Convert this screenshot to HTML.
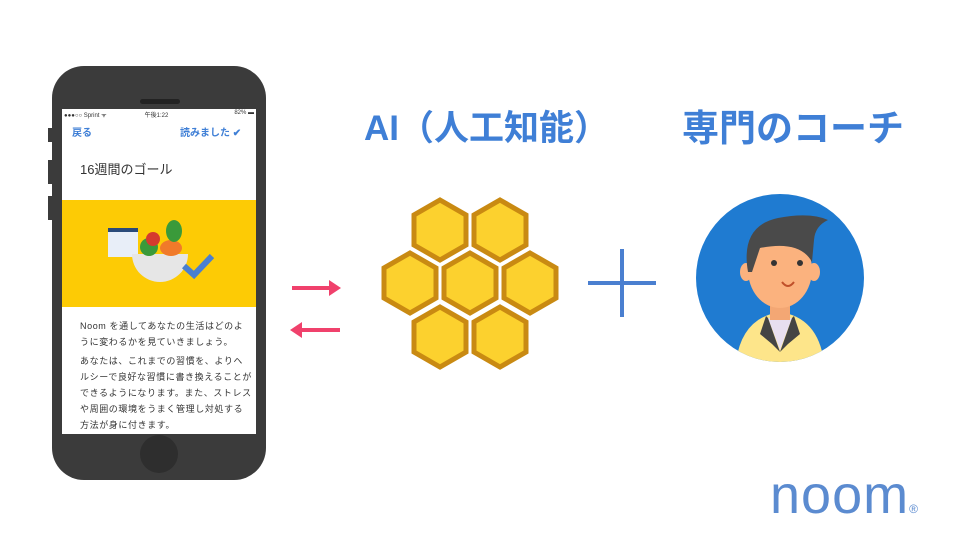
<!DOCTYPE html>
<html><head><meta charset="utf-8"><style>
body{margin:0;width:960px;height:540px;background:#fff;overflow:hidden;position:relative;font-family:"Liberation Sans","Noto Sans CJK JP",sans-serif}
.a{position:absolute}
.t{color:#3f7fd6;font-weight:bold;white-space:nowrap;line-height:40px}
.s{font-size:9px;color:#333;line-height:16px;letter-spacing:0.6px}
</style></head><body>
<!-- phone -->
<div class="a" style="left:52px;top:66px;width:214px;height:414px;background:#3b3b3b;border-radius:32px"></div>
<div class="a" style="left:48px;top:128px;width:6px;height:14px;background:#3b3b3b"></div>
<div class="a" style="left:48px;top:160px;width:6px;height:24px;background:#3b3b3b"></div>
<div class="a" style="left:48px;top:196px;width:6px;height:24px;background:#3b3b3b"></div>
<div class="a" style="left:140px;top:99px;width:40px;height:5px;background:#222;border-radius:3px"></div>
<div class="a" style="left:140px;top:435px;width:38px;height:38px;background:#2e2e2e;border-radius:50%"></div>
<div class="a" style="left:62px;top:109px;width:194px;height:325px;background:#fff;overflow:hidden"></div>
<div class="a" style="left:64px;top:110px;font-size:6px;color:#333;width:190px">●●●○○ Sprint ᯤ<span style="margin-left:38px">午後1:22</span><span style="float:right">82% ▬</span></div>
<div class="a" style="left:72px;top:124px;font-size:10px;color:#3f7fd6;font-weight:bold">戻る</div>
<div class="a" style="left:180px;top:124px;font-size:10px;color:#3f7fd6;font-weight:bold">読みました ✔</div>
<div class="a" style="left:80px;top:159px;font-size:13px;color:#333">16週間のゴール</div>
<div class="a" style="left:62px;top:200px;width:194px;height:107px;background:#fdcb05"></div>
<div class="a" style="left:108px;top:228px;width:30px;height:25px;background:#e8eef8;border-top:4px solid #2a4a7a"></div>
<div class="a" style="left:132px;top:254px;width:56px;height:28px;background:#e6e6e6;border-radius:0 0 28px 28px"></div>
<div class="a" style="left:140px;top:238px;width:18px;height:18px;background:#3a9a3a;border-radius:50%"></div>
<div class="a" style="left:146px;top:232px;width:14px;height:14px;background:#d53a2e;border-radius:50%"></div>
<div class="a" style="left:160px;top:240px;width:22px;height:16px;background:#f07a2a;border-radius:50%"></div>
<div class="a" style="left:166px;top:220px;width:16px;height:22px;background:#3a9a3a;border-radius:50%"></div>
<svg class="a" style="left:180px;top:250px" width="36" height="30"><polyline points="4,16 14,25 32,6" fill="none" stroke="#4a7fd0" stroke-width="6"/></svg>
<div class="a s" style="left:80px;top:318px;width:172px">Noom を通してあなたの生活はどのように変わるかを見ていきましょう。</div>
<div class="a s" style="left:80px;top:353px;width:172px">あなたは、これまでの習慣を、よりヘルシーで良好な習慣に書き換えることができるようになります。また、ストレスや周囲の環境をうまく管理し対処する方法が身に付きます。</div>
<!-- arrows -->
<svg class="a" style="left:285px;top:275px" width="60" height="65">
<line x1="7" y1="13" x2="50" y2="13" stroke="#f0416c" stroke-width="4"/><polygon points="56,13 44,5 44,21" fill="#f0416c"/>
<line x1="12" y1="55" x2="55" y2="55" stroke="#f0416c" stroke-width="4"/><polygon points="5,55 17,47 17,63" fill="#f0416c"/>
</svg>
<div class="a t" style="left:364px;top:109px;font-size:35px">AI（人工知能）</div>
<div class="a t" style="left:682px;top:109px;font-size:37px">専門のコーチ</div>
<!-- hex -->
<svg class="a" style="left:0;top:0" width="960" height="540">
<defs><polygon id="h" points="0,-30 26,-15 26,15 0,30 -26,15 -26,-15" fill="#fcd12e" stroke="#c98a12" stroke-width="5"/></defs>
<use href="#h" x="440" y="230"/><use href="#h" x="500" y="230"/>
<use href="#h" x="410" y="283"/><use href="#h" x="470" y="283"/><use href="#h" x="530" y="283"/>
<use href="#h" x="440" y="337"/><use href="#h" x="500" y="337"/>
<line x1="588" y1="283" x2="656" y2="283" stroke="#4a7fd0" stroke-width="4"/>
<line x1="622" y1="249" x2="622" y2="317" stroke="#4a7fd0" stroke-width="4"/>
<!-- coach -->
<clipPath id="c"><circle cx="780" cy="278" r="84"/></clipPath>
<circle cx="780" cy="278" r="84" fill="#1f7bd1"/>
<g clip-path="url(#c)">
<path d="M735,372 Q738,318 780,312 Q822,318 825,372Z" fill="#fde58a"/>
<path d="M768,318 L780,350 L792,318 Z" fill="#e8dff0"/>
<path d="M766,316 L760,334 L772,344 L780,352 L768,318Z M794,316 L800,334 L788,344 L780,352 L792,318Z" fill="#444"/>
<rect x="770" y="300" width="20" height="20" fill="#f3a774"/>
<ellipse cx="780" cy="270" rx="32" ry="38" fill="#fbb27e"/>
<ellipse cx="746" cy="272" rx="6" ry="9" fill="#fbb27e"/><ellipse cx="814" cy="272" rx="6" ry="9" fill="#fbb27e"/>
<path d="M748,272 Q740,226 778,218 Q810,212 828,220 Q815,226 814,240 L812,262 Q800,240 760,248 L752,272Z" fill="#4a4a4a"/>
<circle cx="774" cy="263" r="3" fill="#333"/><circle cx="800" cy="263" r="3" fill="#333"/>
<path d="M782,282 Q788,290 794,282" fill="none" stroke="#c0502a" stroke-width="2"/>
</g>
</svg>
<div class="a" style="left:770px;top:467px;font-size:54px;color:#5b8bd0;letter-spacing:1px;line-height:56px">noom<span style="font-size:12px">®</span></div>
</body></html>
